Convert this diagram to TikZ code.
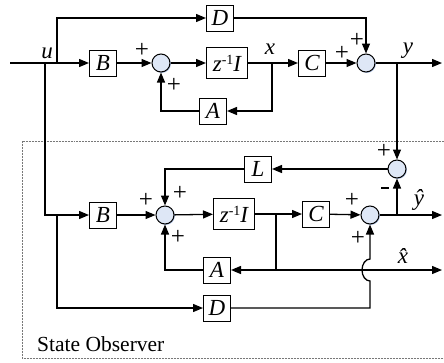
\documentclass[tikz,border=0pt]{standalone}
\usepackage{fontspec}
\setmainfont{Liberation Serif}
\usetikzlibrary{arrows.meta,shadows}
\definecolor{sumfill}{RGB}{222,231,246}
\definecolor{sumshadow}{RGB}{170,190,225}
\definecolor{framegray}{RGB}{120,120,120}
\begin{document}
\begin{tikzpicture}[x=1pt,y=-1pt,
  blk/.style={draw,line width=1pt,fill=white,minimum width=27pt,minimum height=26pt,
    inner sep=0pt,font=\fontsize{23}{23}\selectfont\itshape},
  zblk/.style={blk,minimum width=41pt,minimum height=31pt},
  sumc/.style={circle,draw,line width=1pt,fill=sumfill,minimum size=18pt,inner sep=0pt,
    drop shadow={shadow xshift=0.9pt,shadow yshift=-0.9pt,fill=sumshadow,opacity=1}},
  wire/.style={line width=1.3pt},
  arr/.style={wire,-{Triangle[length=10pt,width=8pt]}},
  sgn/.style={font=\fontsize{25}{25}\selectfont,inner sep=0pt},
  lbl/.style={font=\fontsize{23}{23}\selectfont\itshape,inner sep=0pt},
]
\useasboundingbox (0,0) rectangle (444,362);

% observer frame
\draw[framegray,line width=0.9pt,dash pattern=on 1pt off 0.5pt]
  (444,141) -- (22,141) -- (22,358) -- (444,358);
\node[font=\fontsize{21.5}{21.5}\selectfont,anchor=base west,inner sep=0pt] (title) at (37,351) {State Observer};

% ---------- plant ----------
\coordinate (uin) at (10,63);
\coordinate (ju) at (45,63);
\coordinate (jd) at (57,63);
\node[blk] (D1) at (220,18) {D};
\node[blk] (B1) at (103,63) {B};
\node[sumc] (S1) at (161,63) {};
\node[zblk] (Z1) at (227,63) {z\raisebox{7pt}{\fontsize{14}{14}\selectfont\upshape -1}I};
\coordinate (jx) at (272,63);
\node[blk] (C1) at (312,63) {C};
\node[sumc] (S2) at (366,63) {};
\coordinate (jy) at (397,63);
\coordinate (yout) at (442,63);
\node[blk] (A1) at (213,111) {A};

\draw[arr] (uin) -- (B1);
\draw[arr] (jd) |- (D1);
\draw[arr] (D1) -| (S2);
\draw[arr] (B1) -- (S1);
\draw[arr] (S1) -- (Z1);
\draw[arr] (Z1) -- (C1);
\draw[arr] (jx) |- (A1);
\draw[arr] (A1) -| (S1);
\draw[arr] (C1) -- (S2);
\draw[arr] (S2) -- (yout);

\node[lbl] (lu) at (47,53) {u};
\node[lbl] (lx) at (270,49) {x};
\node[lbl] (ly) at (408,51) {y};
\node[sgn] (p1) at (142,50) {+};
\node[sgn] (p2) at (174,85) {+};
\node[sgn] (p3) at (342,53) {+};
\node[sgn] (p4) at (357,40) {+};

% ---------- observer ----------
\node[sumc] (S3) at (397,169) {};
\node[blk] (L) at (258,169) {L};
\node[sumc] (S4) at (165,215) {};
\node[blk] (B2) at (103,215) {B};
\coordinate (jd2) at (57,215);
\node[zblk] (Z2) at (234,214) {z\raisebox{7pt}{\fontsize{14}{14}\selectfont\upshape -1}I};
\coordinate (jxh) at (276,214);
\node[blk] (C2) at (316,214) {C};
\node[sumc] (S5) at (370,215) {};
\coordinate (jyh) at (397,215);
\coordinate (yhout) at (442,215);
\node[blk] (A2) at (217,270) {A};
\coordinate (xh) at (276,270);
\coordinate (xhout) at (442,270);
\node[blk] (D2) at (217,308) {D};
\coordinate (hopB) at (370,281);

\draw[arr] (ju) |- (B2);
\draw[arr] (jd2) |- (D2);
\draw[arr] (B2) -- (S4);
\draw[arr] (S4) -- (Z2);
\draw[arr] (Z2) -- (C2);
\draw[arr] (C2) -- (S5);
\draw[arr] (S5) -- (yhout);
\draw[arr] (jy) -- (S3);
\draw[arr] (jyh) -- (S3);
\draw[arr] (S3) -- (L);
\draw[arr] (L) -| (S4);
\draw[wire] (jxh) -- (xh);
\draw[arr] (xh) -- (A2);
\draw[arr] (xh) -- (xhout);
\draw[arr] (A2) -| (S4);
\draw[arr] (D2) -| (hopB)
  arc[start angle=270,end angle=90,x radius=8pt,y radius=11pt] -- (S5);

\node[lbl] (lyh) at (419,200) {ŷ};
\node[lbl] (lxh) at (403,256) {\^{x}};
\node[sgn] (p5) at (384,151) {+};
\node[inner sep=0pt] (m5) at (385,188) {\rule{8pt}{2.4pt}};
\node[sgn] (p6) at (180,193) {+};
\node[sgn] (p7) at (146,200) {+};
\node[sgn] (p8) at (178,237) {+};
\node[sgn] (p9) at (352,200) {+};
\node[sgn] (p10) at (358,238) {+};
\end{tikzpicture}
\end{document}
